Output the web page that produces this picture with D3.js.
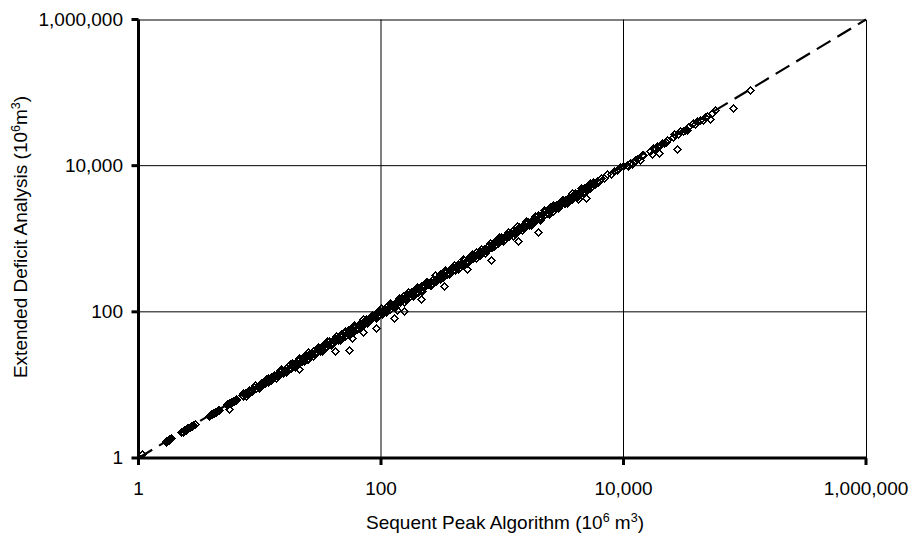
<!DOCTYPE html>
<html><head><meta charset="utf-8">
<script src="https://cdn.jsdelivr.net/npm/d3@7"></script>
<style>body{margin:0;background:#fff} svg{display:block}</style>
</head><body>
<svg id="chart" width="912" height="536"></svg>
<script>
// Sequent Peak Algorithm storage (x) and Extended Deficit Analysis storage (y), 10^6 m^3
const sequentPeak = [
  1.68, 1.70, 1.72, 1.74, 1.76, 1.78, 1.80, 1.83, 1.86,
  2.26, 2.32, 2.38, 2.45, 2.52, 2.58, 2.64, 2.70, 2.76, 2.82, 2.90,
  3.78, 3.86, 3.94, 4.02, 4.10, 4.18, 4.26, 4.34, 4.42, 4.50, 4.57,
  5.32, 5.42, 5.52, 5.60, 5.62, 5.72, 5.82, 5.92, 6.02, 6.12, 6.22, 6.32, 6.43,
  7.1, 7.3, 7.5, 7.8, 8.0, 8.2, 8.5, 8.7, 9.0, 9.3, 9.6, 9.9,
  10.2, 10.5, 10.9, 11.2, 11.6, 12.0, 12.3, 12.7, 13.1, 13.5,
  13.9, 14.3, 14.8, 15.2, 15.7, 16.2, 16.6, 17.1, 17.6, 18.2,
  18.7, 19.3, 19.9, 20.5, 21.1, 21.7, 22.4, 23.1, 23.8, 24.5,
  25.2, 26.0, 26.8, 27.6, 28.4, 29.3, 30.1, 31.0, 32.0, 32.9,
  33.9, 35.0, 36.0, 37.1, 38.2, 39.4, 40.6, 41.8, 43.0, 44.3,
  45.7, 47.0, 48.5, 49.9, 51.4, 53.0, 54.6, 56.2, 57.9, 59.6,
  61.4, 63.3, 65.2, 67.1, 69.1, 71.2, 73.4, 75.6, 77.8, 80.2,
  82.6, 85.0, 87.6, 90.2, 92.9, 95.7, 98.6,
  101.6, 104.6, 107.7, 110.9, 114.2, 117.6, 121.1, 124.7, 128.4, 132.3,
  136.2, 140.3, 144.5, 148.8, 153.3, 157.9, 162.6, 167.5, 172.5, 177.7,
  183.0, 188.5, 194.2, 200, 206, 212, 218.5, 225, 232, 239,
  246, 253, 261, 269, 277, 285, 294, 302, 311, 321,
  330, 340, 351, 361, 372, 383, 395, 406, 419, 431,
  444, 457, 471, 485, 500, 515, 530, 546, 563, 580,
  597, 615, 633, 652, 672, 692, 713, 734, 756, 779,
  802, 826, 851, 877, 903, 930, 958, 987,
  1017, 1047, 1079, 1111, 1144, 1179, 1214, 1250, 1288, 1327,
  1366, 1407, 1450, 1493, 1538, 1584, 1632, 1681, 1731, 1783,
  1837, 1892, 1949, 2007, 2067, 2129, 2193, 2259, 2327, 2397,
  2469, 2543, 2619, 2698, 2779, 2862, 2948, 3036, 3127, 3221,
  3318, 3417, 3520, 3626, 3734, 3846, 3962, 4081, 4203, 4329,
  4459, 4593, 4731, 4873, 5019, 5170, 5325, 5485, 5649, 5819,
  5993, 6173, 6549, 6948, 7371, 7820, 8296, 8801, 9337, 9906,
  7.3, 7.7, 8.2, 8.7, 9.2, 9.8, 10.4, 11.0, 11.7, 12.4,
  13.1, 13.9, 14.7, 15.6, 16.5, 17.5, 18.6, 19.7, 20.9, 22.1,
  23.4, 24.8, 26.3, 27.9, 29.6, 31.4, 33.3, 35.3, 37.4, 39.6,
  42.0, 44.5, 47.2, 50.0, 53.0, 56.2, 59.6, 63.2, 67.0, 71.0,
  75.3, 79.8, 84.6, 89.7, 95.1, 101, 107, 113, 120, 127,
  135, 143, 151, 160, 170, 180, 191, 202, 215, 228,
  241, 256, 271, 287, 304, 323, 342, 363, 384, 408,
  432, 458, 485, 515, 545, 578, 613, 650, 689, 730,
  774, 820, 870, 922, 977, 1036, 1098, 1164, 1234, 1308,
  1386, 1470, 1558, 1651, 1750, 1855, 1967, 2085, 2210, 2342,
  2483, 2632, 2790, 2957, 3135, 3323, 3522, 3733, 3957, 4195,
  4447, 4713, 4996, 5296, 5614,
  15.0, 16.4, 17.9, 19.5, 21.2, 23.1, 25.2, 27.5, 30.0, 32.7,
  35.6, 38.8, 42.3, 46.1, 50.2, 54.7, 59.7, 65.0, 70.9, 77.3,
  84.2, 91.8, 100, 109, 119, 130, 141, 154, 168, 183,
  199, 217, 237, 258, 281, 307, 334, 364, 397, 433,
  472, 514, 560, 611, 666, 726, 791, 862, 940, 1024,
  1117, 1217, 1327, 1446, 1576, 1718, 1873, 2041, 2225, 2425,
  2644, 2882, 3141, 3424, 3732, 4068, 4434, 4833, 5268,
  10700, 10960, 11300, 11690, 12100, 12500, 13000, 13690, 14200, 14500,
  16500, 17100, 17600, 18200, 19000, 20000, 20800, 21500, 22400, 23000,
  25600, 26300, 28100, 29200, 30900, 32000, 33200, 34000,
  37700, 38900, 40200, 42800, 45300, 47000, 49000, 51700, 54000, 56900,
  110000,
  1.06, 21.2, 41.8, 54.8, 57.3, 71.5, 91, 128.8, 136, 155.6,
  212, 331, 509, 807, 1340, 1963, 4217, 4908, 19630, 27600, 80000
];
const extendedDeficit = [
  1.66, 1.72, 1.70, 1.75, 1.78, 1.76, 1.82, 1.84, 1.85,
  2.30, 2.29, 2.40, 2.42, 2.55, 2.56, 2.62, 2.74, 2.73, 2.85, 2.88,
  3.80, 3.83, 3.98, 3.97, 4.14, 4.15, 4.30, 4.28, 4.45, 4.52, 4.55,
  5.40, 5.38, 5.55, 4.62, 5.68, 5.70, 5.88, 5.86, 6.08, 6.05, 6.28, 6.25, 6.50,
  7.24, 7.08, 7.80, 7.72, 7.60, 8.45, 8.50, 8.35, 9.45, 9.11, 9.70, 9.60,
  10.5, 10.1, 10.9, 11.9, 10.9, 11.9, 12.8, 12.3, 13.2, 12.6,
  14.3, 13.7, 14.8, 16.1, 14.8, 16.0, 17.3, 16.6, 17.8, 16.9,
  19.3, 18.5, 19.9, 21.7, 19.8, 21.5, 23.3, 22.4, 24.0, 22.8,
  26.0, 25.0, 26.8, 29.3, 26.7, 29.0, 31.3, 30.1, 32.3, 30.6,
  34.9, 33.6, 36.0, 39.3, 35.9, 39.0, 42.2, 40.5, 43.4, 41.2,
  47.1, 45.1, 48.5, 52.9, 48.3, 52.5, 56.8, 54.5, 58.5, 55.4,
  63.2, 60.8, 65.2, 71.1, 65.0, 70.5, 76.3, 73.3, 78.6, 74.6,
  85.1, 81.6, 87.6, 95.6, 87.3, 94.7, 102.5,
  98.6, 106.7, 102.3, 116.4, 113.1, 110.5, 124.7, 124.7, 123.3, 137.6,
  132.1, 143.1, 137.3, 156.2, 151.8, 148.4, 167.5, 167.5, 165.6, 184.8,
  177.5, 192.3, 184.5, 210, 204, 199, 225, 225, 223, 249,
  239, 258, 248, 282, 274, 268, 303, 302, 299, 334,
  320, 347, 333, 379, 368, 360, 407, 406, 402, 448,
  431, 466, 447, 509, 495, 484, 546, 546, 540, 603,
  579, 627, 601, 685, 665, 650, 734, 734, 726, 810,
  778, 843, 808, 921, 894, 874, 987, 987,
  1037, 1005, 1122, 1089, 1075, 1191, 1275, 1213, 1275, 1261,
  1393, 1351, 1508, 1463, 1446, 1600, 1714, 1631, 1714, 1694,
  1874, 1816, 2027, 1967, 1943, 2150, 2303, 2191, 2304, 2277,
  2518, 2441, 2724, 2644, 2612, 2891, 3095, 2945, 3096, 3060,
  3384, 3280, 3661, 3553, 3510, 3884, 4160, 3959, 4161, 4113,
  4548, 4409, 4920, 4776, 4718, 5222, 5591, 5320, 5593, 5528,
  6113, 5926, 6745, 6809, 7666, 7585, 8462, 8713, 9710, 10005,
  7.81, 7.16, 8.61, 8.27, 9.94, 9.02, 10.7, 10.7, 12.5, 11.5,
  13.8, 13.2, 15.9, 14.4, 17.0, 17.0, 19.9, 18.3, 21.9, 21.0,
  25.3, 22.8, 27.1, 27.1, 31.7, 29.2, 35.0, 33.5, 40.4, 36.4,
  43.3, 43.2, 50.5, 46.5, 55.7, 53.4, 64.4, 58.1, 69.0, 68.9,
  80.6, 74.2, 88.8, 85.2, 102.7, 92.9, 110, 110, 128, 118,
  142, 136, 163, 147, 175, 175, 204, 188, 226, 217,
  260, 236, 279, 278, 325, 300, 359, 345, 415, 375,
  445, 444, 519, 479, 572, 549, 662, 598, 710, 708,
  828, 763, 914, 876, 1055, 953, 1131, 1129, 1320, 1216,
  1455, 1397, 1683, 1519, 1803, 1799, 2105, 1939, 2321, 2225,
  2682, 2421, 2874, 2868, 3354, 3090, 3698, 3546, 4274, 3859,
  4580, 4572, 5346, 4925, 5895,
  16.7, 14.8, 19.5, 17.4, 23.7, 21.0, 28.0, 24.8, 32.7, 29.1,
  39.9, 35.3, 47.0, 41.5, 54.7, 48.7, 66.9, 59.2, 78.7, 69.6,
  91.8, 81.7, 112, 99.2, 132, 117, 154, 137, 188, 167,
  221, 195, 258, 230, 315, 279, 371, 328, 433, 385,
  529, 468, 622, 550, 726, 646, 886, 784, 1043, 922,
  1218, 1083, 1486, 1316, 1749, 1546, 2042, 1816, 2492, 2207,
  2935, 2594, 3424, 3047, 4180, 3702, 4922, 4350, 5742,
  10200, 9840, 11000, 10380, 11600, 12100, 12300, 11780, 13800, 14100,
  16000, 14550, 17200, 17500, 18600, 18900, 20200, 20500, 21400, 22600,
  25000, 26800, 27000, 29800, 29600, 31200, 30300, 33500,
  38500, 37400, 41000, 42000, 41500, 46500, 48000, 43800, 52500, 56900,
  107000,
  1.12, 16.6, 28.7, 30.5, 44.1, 52.6, 59.7, 82.9, 107, 102,
  151, 227, 388, 504, 926, 1247, 3524, 3556, 14680, 16650, 62500
];
const tickValues = [1, 100, 10000, 1000000];
const tickLabels = ["1", "100", "10,000", "1,000,000"];
const gridValues = [100, 10000];
const equalityLine = [1, 1000000];

const points = d3.zip(sequentPeak, extendedDeficit);
const FONT = "'Liberation Sans', Arial, Helvetica, sans-serif";
const svg = d3.select("#chart");

const x = d3.scaleLog().domain([1, 1e6]).range([138.5, 866]);
const y = d3.scaleLog().domain([1, 1e6]).range([458, 19.5]);
const [x0, x1] = x.range();
const [y0, y1] = y.range();

// gridlines
const grid = svg.append("g").attr("stroke", "#000").attr("stroke-width", 1);
grid.selectAll("line.gx").data(gridValues).join("line").attr("class", "gx")
  .attr("x1", d => x(d)).attr("x2", d => x(d)).attr("y1", y0).attr("y2", y1);
grid.selectAll("line.gy").data(gridValues).join("line").attr("class", "gy")
  .attr("y1", d => y(d)).attr("y2", d => y(d)).attr("x1", x0).attr("x2", x1);

// frame (top & right)
svg.append("path").attr("d", `M${x0},${y1 + 0.5}H${x1 + 0.5}V${y0}`)
  .attr("fill", "none").attr("stroke", "#000").attr("stroke-width", 1);

// points: hollow diamonds
const r = 3.6;
const diamond = `M0,${-r}L${r},0L0,${r}L${-r},0Z`;
svg.append("g").attr("shape-rendering", "crispEdges")
  .selectAll("path").data(points).join("path")
  .attr("d", diamond)
  .attr("transform", d => `translate(${Math.round(x(d[0])) + 0.5},${Math.round(y(d[1])) + 0.5})`)
  .attr("fill", "none").attr("stroke", "#000").attr("stroke-width", 1.2);

// 1:1 dashed line
svg.append("line")
  .attr("x1", x(equalityLine[0])).attr("y1", y(equalityLine[0]))
  .attr("x2", x(equalityLine[1])).attr("y2", y(equalityLine[1]))
  .attr("stroke", "#000").attr("stroke-width", 2.2).attr("stroke-dasharray", "16,8");

// axes
const xAxis = d3.axisBottom(x).tickValues(tickValues).tickFormat((d, i) => tickLabels[i])
  .tickSize(7).tickSizeOuter(0).offset(0);
const yAxis = d3.axisLeft(y).tickValues(tickValues).tickFormat((d, i) => tickLabels[i])
  .tickSize(7).tickSizeOuter(0).offset(0);

const gx = svg.append("g").attr("transform", `translate(0,${y0})`).call(xAxis);
const gy = svg.append("g").attr("transform", `translate(${x0},0)`).call(yAxis);
[gx, gy].forEach(g => {
  g.attr("font-family", FONT).attr("font-size", 19);
  g.select(".domain").attr("stroke", "#000").attr("stroke-width", 3);
  g.selectAll(".tick line").attr("stroke", "#000").attr("stroke-width", 3);
  g.selectAll(".tick text").attr("fill", "#000");
});
gx.selectAll(".tick text").attr("dy", null).attr("y", 37);
gy.selectAll(".tick text").attr("x", -15.5);

// axis titles
const xt = svg.append("text").attr("x", 505).attr("y", 529)
  .attr("text-anchor", "middle").attr("font-family", FONT).attr("font-size", 19).attr("fill", "#000");
xt.append("tspan").text("Sequent Peak Algorithm (10");
xt.append("tspan").attr("dy", -7).attr("font-size", 12.5).text("6");
xt.append("tspan").attr("dy", 7).text(" m");
xt.append("tspan").attr("dy", -7).attr("font-size", 12.5).text("3");
xt.append("tspan").attr("dy", 7).text(")");

const yt = svg.append("text").attr("transform", "translate(27,237) rotate(-90)")
  .attr("text-anchor", "middle").attr("font-family", FONT).attr("font-size", 19).attr("fill", "#000");
yt.append("tspan").text("Extended Deficit Analysis (10");
yt.append("tspan").attr("dy", -7).attr("font-size", 12.5).text("6");
yt.append("tspan").attr("dy", 7).text("m");
yt.append("tspan").attr("dy", -7).attr("font-size", 12.5).text("3");
yt.append("tspan").attr("dy", 7).text(")");
</script>
</body></html>
